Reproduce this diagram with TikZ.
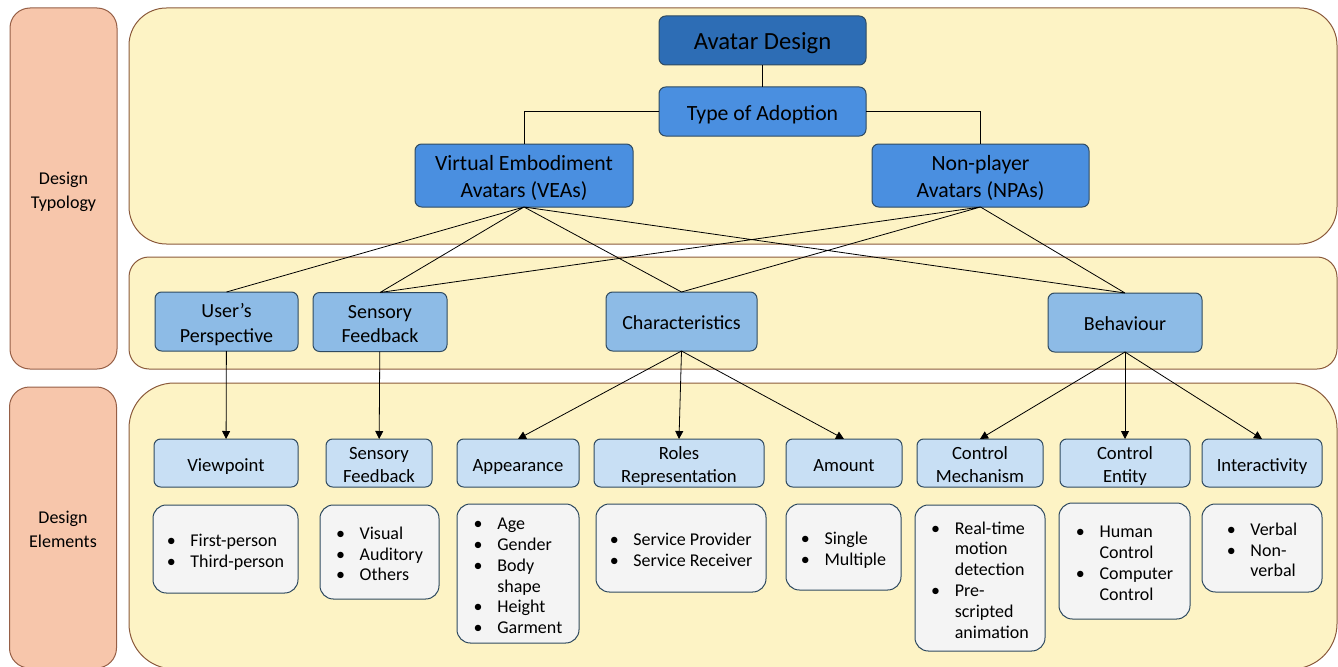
\documentclass[tikz,border=0pt]{standalone}
\usepackage{fontspec}
\setmainfont{Carlito}
\usetikzlibrary{arrows.meta,positioning}
\definecolor{panelfill}{RGB}{253,243,197}
\definecolor{panelline}{RGB}{139,90,60}
\definecolor{sidefill}{RGB}{247,198,171}
\definecolor{sideline}{RGB}{150,95,70}
\definecolor{rootfill}{RGB}{45,109,181}
\definecolor{typefill}{RGB}{74,143,224}
\definecolor{catfill}{RGB}{141,187,230}
\definecolor{elemfill}{RGB}{200,223,244}
\definecolor{listfill}{RGB}{244,244,244}
\definecolor{nodeline}{RGB}{47,74,96}
% node text: centred lines, set a little low as in the figure
\newcommand{\ntext}[1]{\raisebox{-2.6pt}[\height][\depth]{\begin{tabular}{@{}c@{}}#1\end{tabular}}}
\newcommand{\blist}[1]{{\fontsize{13.5}{15.6}\selectfont\raisebox{-3pt}[\height][\depth]{\begin{tabular}{@{}l@{\hspace{11pt}}l@{}}#1\end{tabular}}}}

\begin{document}
\begin{tikzpicture}[x=0.75pt, y=-0.75pt,
    every node/.style={inner sep=0pt, outer sep=0pt},
    sidebox/.style={draw=sideline, fill=sidefill, line width=0.75pt, rounded corners=15pt, minimum width=80.25pt, font=\fontsize{13.5}{17.5}\selectfont},
    panel/.style={draw=panelline, fill=panelfill, line width=0.75pt, minimum width=906pt},
    rootnode/.style={draw=nodeline, fill=rootfill, line width=0.75pt, rounded corners=5pt, font=\fontsize{18.5}{22}\selectfont},
    typenode/.style={draw=nodeline, fill=typefill, line width=0.75pt, rounded corners=5pt, font=\fontsize{16.3}{20}\selectfont},
    catnode/.style={draw=nodeline, fill=catfill, line width=0.75pt, rounded corners=5pt, minimum height=44.25pt, font=\fontsize{15}{18.4}\selectfont},
    elemnode/.style={draw=nodeline, fill=elemfill, line width=0.75pt, rounded corners=5pt, minimum height=36pt, font=\fontsize{14}{17}\selectfont},
    listbox/.style={draw=nodeline, fill=listfill, line width=0.75pt, rounded corners=10pt},
    link/.style={line width=0.6pt},
    arrowlink/.style={line width=0.6pt, -{Triangle[length=6pt, width=6pt]}}
]
\useasboundingbox (0,0) rectangle (1338,667);

% side labels and panels
\node[sidebox, minimum height=270.75pt] (typology) at (63.5,188.5) {\ntext{Design\\Typology}};
\node[sidebox, minimum height=210.75pt] (elements) at (63,527.5) {\ntext{Design\\Elements}};
\node[panel, rounded corners=28pt, minimum height=177pt] (toppanel) at (733,126) {};
\node[panel, rounded corners=15pt, minimum height=84pt] (midpanel) at (733,313) {};
\node[panel, rounded corners=34pt, minimum height=214.5pt] (lowpanel) at (733,526) {};

% typology
\node[rootnode, minimum width=155.25pt, minimum height=36.75pt] (avatar) at (762.5,40.5) {\ntext{Avatar Design}};
\node[typenode, minimum width=155.25pt, minimum height=36.75pt] (adopt) at (762.5,111.5) {\ntext{Type of Adoption}};
\node[typenode, minimum width=163.5pt, minimum height=47.25pt] (vea) at (524,175.5) {\ntext{Virtual Embodiment\\Avatars (VEAs)}};
\node[typenode, minimum width=162.75pt, minimum height=47.25pt] (npa) at (980.5,175.5) {\ntext{Non-player\\Avatars (NPAs)}};

% categories
\node[catnode, minimum width=107.25pt] (persp) at (226.5,321.5) {\ntext{User’s\\Perspective}};
\node[catnode, minimum width=100.5pt] (sense) at (380,322) {\ntext{Sensory\\Feedback}};
\node[catnode, minimum width=113.25pt] (charac) at (681.5,321.5) {\ntext{Characteristics}};
\node[catnode, minimum width=115.5pt] (behav) at (1125,322.5) {\ntext{Behaviour}};

% elements
\node[elemnode, minimum width=108pt] (view) at (226,463) {\ntext{Viewpoint}};
\node[elemnode, minimum width=79.5pt] (feed) at (379,463) {\ntext{Sensory\\Feedback}};
\node[elemnode, minimum width=91.5pt] (appear) at (518,463) {\ntext{Appearance}};
\node[elemnode, minimum width=127.5pt] (roles) at (679,463) {\ntext{Roles\\Representation}};
\node[elemnode, minimum width=87pt] (amount) at (844,463) {\ntext{Amount}};
\node[elemnode, minimum width=94.5pt] (mech) at (980,463) {\ntext{Control\\Mechanism}};
\node[elemnode, minimum width=97.5pt] (entity) at (1125,463) {\ntext{Control\\Entity}};
\node[elemnode, minimum width=90pt] (inter) at (1262,463) {\ntext{Interactivity}};

% lists
\node[listbox, minimum width=108.75pt, minimum height=66pt] (viewlist) at (225.5,549) {\blist{\textbullet & First-person\\ \textbullet & Third-person}};
\node[listbox, minimum width=89.25pt, minimum height=70.5pt] (feedlist) at (379.5,552) {\blist{\textbullet & Visual\\ \textbullet & Auditory\\ \textbullet & Others}};
\node[listbox, minimum width=91.5pt, minimum height=104.25pt] (appearlist) at (518,573.5) {\blist{\textbullet & Age\\ \textbullet & Gender\\ \textbullet & Body\\ & shape\\ \textbullet & Height\\ \textbullet & Garment}};
\node[listbox, minimum width=127.5pt, minimum height=66pt] (roleslist) at (681,548) {\blist{\textbullet & Service Provider\\ \textbullet & Service Receiver}};
\node[listbox, minimum width=86.25pt, minimum height=64.5pt] (amountlist) at (843.5,547) {\blist{\textbullet & Single\\ \textbullet & Multiple}};
\node[listbox, minimum width=97.5pt, minimum height=109.5pt] (mechlist) at (980,578) {\blist{\textbullet & Real-time\\ & motion\\ & detection\\ \textbullet & Pre-\\ & scripted\\ & animation}};
\node[listbox, minimum width=98.25pt, minimum height=87pt] (entitylist) at (1124.5,561) {\blist{\textbullet & Human\\ & Control\\ \textbullet & Computer\\ & Control}};
\node[listbox, minimum width=90pt, minimum height=66pt] (interlist) at (1262,548) {\blist{\textbullet & Verbal\\ \textbullet & Non-\\ & verbal}};

% connectors
\draw[link] (avatar) -- (adopt);
\draw[link] (adopt.west) -| (vea.north);
\draw[link] (adopt.east) -| (npa.north);
\draw[link]
(vea.south) -- (persp.north)
(vea.south) -- (sense.north)
(vea.south) -- (charac.north)
(vea.south) -- (behav.north)
(npa.south) -- (sense.north)
(npa.south) -- (charac.north)
(npa.south) -- (behav.north);
\draw[arrowlink] (persp) -- (view);
\draw[arrowlink] (sense) -- (feed);
\draw[arrowlink] (charac.south) -- (appear.north);
\draw[arrowlink] (charac.south) -- (roles.north);
\draw[arrowlink] (charac.south) -- (amount.north);
\draw[arrowlink] (behav.south) -- (mech.north);
\draw[arrowlink] (behav.south) -- (entity.north);
\draw[arrowlink] (behav.south) -- (inter.north);
\end{tikzpicture}
\end{document}
